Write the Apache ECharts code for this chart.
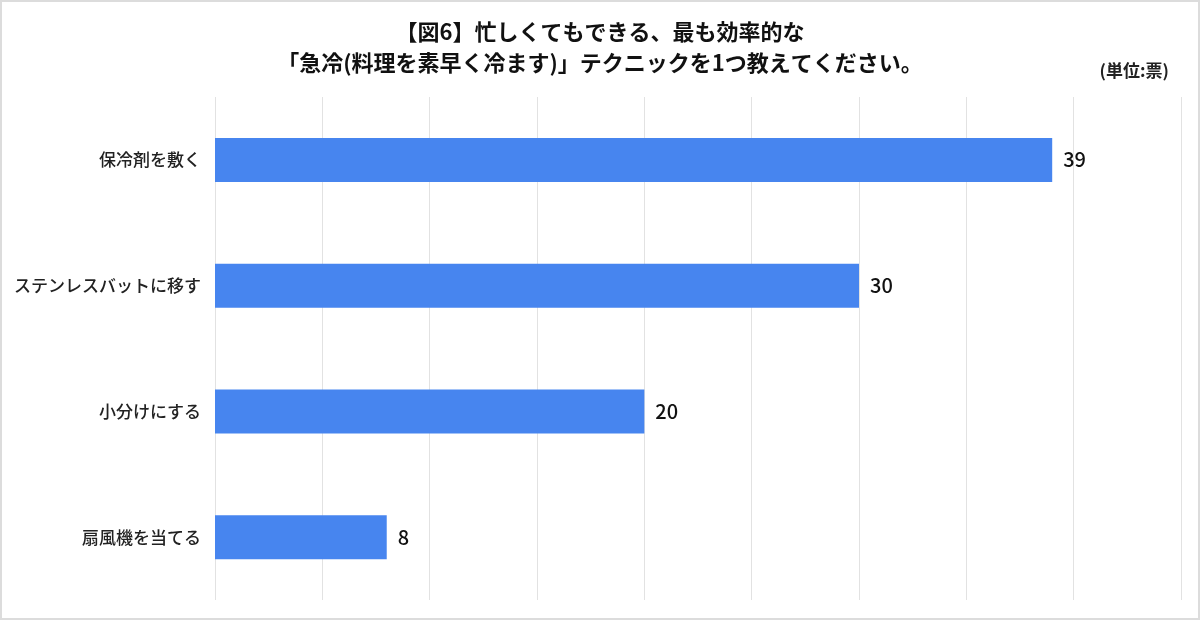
<!DOCTYPE html>
<html lang="ja">
<head>
    <meta charset="UTF-8">
    <title>急冷テクニック</title>
    <script src="https://cdn.jsdelivr.net/npm/echarts@6.0.0/dist/echarts.min.js"></script>
    <style>
        html, body { margin: 0; padding: 0; background: #fff; }
        #main { width: 1200px; height: 620px; box-sizing: border-box; border: 2px solid #dcdcdc; }
    </style>
</head>
<body>
    <div id="main"></div>
    <script type="text/javascript">
        // data
        const categories = ['保冷剤を敷く', 'ステンレスバットに移す', '小分けにする', '扇風機を当てる'];
        const votes = [39, 30, 20, 8];
        const titleLines = ['【図6】忙しくてもできる、最も効率的な', '「急冷(料理を素早く冷ます)」テクニックを1つ教えてください。'];
        const unitText = '(単位:票)';

        const font = '"Noto Sans CJK JP", "Noto Sans", sans-serif';

        let myChart = echarts.init(document.getElementById('main'));
        let options = {
            backgroundColor: '#fff',
            textStyle: { fontFamily: font },
            title: [{
                text: titleLines.join('\n'),
                left: 'center',
                top: 9,
                textStyle: { fontFamily: font, fontSize: 22, fontWeight: 'bold', color: '#111', lineHeight: 31 }
            }, {
                text: unitText,
                right: 24,
                top: 55,
                textStyle: { fontFamily: font, fontSize: 17, fontWeight: 'bold', color: '#222' }
            }],
            grid: { left: 213, right: 17, top: 95, bottom: 18 },
            xAxis: {
                type: 'value',
                min: 0,
                max: 45,
                interval: 5,
                axisLabel: { show: false },
                axisLine: { show: false },
                axisTick: { show: false },
                splitLine: { lineStyle: { color: '#e2e2e2', width: 1 } }
            },
            yAxis: {
                type: 'category',
                inverse: true,
                data: categories,
                axisLine: { show: false },
                axisTick: { show: false },
                axisLabel: { fontFamily: font, fontSize: 17, fontWeight: 500, color: '#222', margin: 14 }
            },
            series: [{
                name: '票',
                type: 'bar',
                data: votes,
                barWidth: 44,
                itemStyle: { color: '#4785ef' },
                label: {
                    show: true,
                    position: 'right',
                    distance: 11,
                    fontFamily: font,
                    fontSize: 20,
                    fontWeight: 500,
                    color: '#111'
                }
            }]
        };
        myChart.setOption(options);
    </script>
</body>
</html>
